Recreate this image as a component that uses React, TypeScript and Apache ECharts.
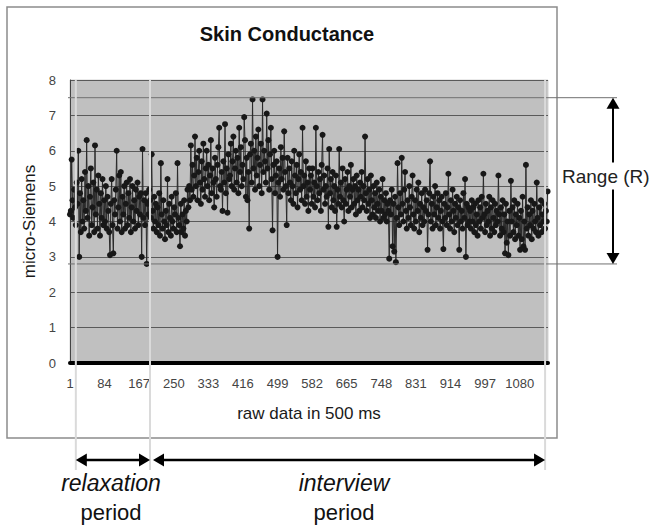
import { useEffect, useRef } from "react";
import * as echarts from "echarts";

const FONT = "'Liberation Sans', Arial, Helvetica, sans-serif";

// one reading every STEP raw samples (index 0 = sample "1")
const STEP = 2;

// samples 1-192
const relaxationValues = [
  4.2, 4.3, 5.75, 4.6, 4.1, 4.9, 4.4, 3.9, 5.1, 4.5,
  6.0, 3.0, 4.8, 3.7, 5.2, 4.0, 4.6, 3.8, 5.4, 4.3,
  6.3, 4.1, 5.0, 3.6, 4.7, 5.5, 3.9, 4.4, 5.1, 3.7,
  6.15, 4.2, 4.9, 3.8, 5.3, 4.5, 3.6, 4.8, 4.1, 5.2,
  3.9, 4.6, 4.0, 5.0, 3.8, 4.7, 4.3, 3.7, 3.05, 4.5,
  5.2, 3.9, 3.1, 4.6, 4.2, 4.9, 6.0, 3.8, 4.4, 5.3,
  4.0, 5.4, 3.7, 4.7, 4.2, 5.0, 3.8, 4.5, 5.1, 3.9,
  4.8, 4.1, 5.2, 3.7, 4.4, 5.0, 4.0, 4.6, 3.8, 4.9,
  4.3, 5.1, 3.9, 4.7, 4.2, 4.8, 3.0, 6.05, 4.1, 4.6,
  3.9, 4.8, 2.8, 4.5, 4.2, 4.9,
];

// samples 193-384
const interviewValuesA = [
  4.6, 4.1, 5.9, 4.3, 3.8, 4.7, 4.0, 4.5, 3.7, 4.4,
  3.9, 4.8, 3.6, 5.65, 4.2, 3.8, 4.6, 4.0, 3.5, 4.3,
  3.9, 5.2, 3.7, 4.5, 4.1, 3.6, 4.7, 4.0, 3.8, 4.4,
  4.2, 4.8, 3.7, 5.65, 4.1, 3.9, 3.3, 4.5, 3.7, 4.2,
  3.8, 4.6, 3.6, 4.3, 4.0, 4.9, 4.4, 5.0, 4.6, 6.15,
  4.9, 5.6, 4.7, 5.3, 6.4, 5.0, 5.8, 4.6, 5.4, 6.0,
  5.1, 4.5, 5.7, 4.9, 6.2, 5.2, 4.7, 5.5, 6.0, 5.0,
  5.6, 4.6, 5.3, 6.3, 4.8, 5.5, 5.1, 4.4, 5.8, 5.2,
  4.7, 5.6, 6.1, 6.65, 5.0, 4.9, 5.4, 4.3, 5.7, 5.1,
  6.75, 4.8, 5.5, 4.25, 5.9, 5.2,
];

// samples 385-576
const interviewValuesB = [
  5.3, 6.2, 5.0, 5.7, 6.4, 4.9, 5.5, 6.0, 5.1, 5.8,
  4.8, 6.65, 5.4, 6.1, 5.0, 5.6, 5.2, 6.95, 6.3, 4.7,
  5.8, 4.6, 5.4, 3.8, 5.9, 6.2, 5.1, 7.45, 5.5, 6.0,
  4.9, 6.4, 5.3, 5.8, 6.6, 5.0, 5.6, 6.2, 4.8, 7.45,
  5.4, 6.0, 5.7, 5.1, 7.05, 5.5, 6.3, 4.9, 5.9, 6.65,
  5.2, 3.75, 5.6, 6.0, 4.8, 5.3, 5.7, 3.0, 5.1, 5.5,
  4.7, 6.1, 5.2, 5.8, 4.9, 6.55, 5.4, 5.0, 3.9, 5.8,
  4.8, 5.5, 5.1, 4.6, 5.7, 5.0, 4.5, 6.0, 5.3, 4.8,
  5.6, 4.4, 5.2, 5.9, 4.9, 5.4, 4.6, 6.65, 5.0, 5.3,
  4.5, 5.7, 4.7, 5.1, 4.3, 5.5,
];

// samples 577-768
const interviewValuesC = [
  4.9, 5.3, 4.5, 5.5, 4.7, 5.1, 4.4, 6.65, 5.0, 4.6,
  5.4, 4.8, 5.2, 4.3, 5.6, 6.45, 4.9, 5.3, 4.5, 5.0,
  4.7, 5.5, 3.85, 6.05, 4.8, 5.2, 4.4, 5.4, 4.6, 5.0,
  4.3, 5.3, 3.85, 4.9, 4.5, 6.05, 4.7, 5.1, 4.4, 5.5,
  4.6, 4.0, 5.2, 4.5, 4.9, 5.4, 4.3, 5.0, 4.7, 5.6,
  4.4, 4.9, 5.2, 4.5, 5.0, 4.2, 5.3, 4.6, 4.9, 4.3,
  5.1, 4.7, 5.4, 4.4, 5.0, 4.6, 6.4, 4.8, 4.3, 5.2,
  4.5, 4.9, 4.1, 5.3, 4.6, 4.2, 5.0, 4.4, 4.8, 4.1,
  5.1, 4.5, 4.3, 4.9, 4.0, 4.7, 4.3, 5.2, 4.1, 4.6,
  4.2, 4.8, 4.0, 4.5, 4.3, 2.95,
];

// samples 769-960
const interviewValuesD = [
  4.6, 4.2, 4.9, 3.3, 4.5, 3.15, 4.7, 2.85, 4.1, 5.65,
  4.4, 3.9, 4.8, 4.2, 5.8, 4.5, 4.0, 4.9, 5.4, 4.3,
  3.8, 4.6, 4.1, 5.0, 4.4, 3.9, 4.7, 5.3, 4.2, 3.8,
  4.6, 4.0, 4.9, 4.3, 5.1, 3.7, 4.5, 4.1, 4.8, 3.9,
  4.4, 4.0, 4.9, 4.3, 4.6, 3.2, 4.2, 4.8, 5.7, 4.0,
  4.5, 3.8, 4.7, 4.2, 5.0, 3.9, 4.4, 4.8, 4.1, 4.6,
  3.8, 4.3, 4.7, 4.0, 3.22, 4.5, 4.1, 4.8, 3.9, 4.4,
  5.35, 4.2, 3.8, 4.6, 4.0, 4.9, 4.3, 3.7, 4.5, 4.1,
  4.7, 3.9, 4.4, 3.2, 4.6, 4.0, 4.3, 3.8, 4.8, 4.1,
  5.2, 3.0, 4.5, 3.9, 4.4, 4.0,
];

// samples 961-1147
const interviewValuesE = [
  4.3, 3.8, 4.6, 4.0, 4.4, 3.7, 4.5, 3.9, 4.2, 3.6,
  4.6, 4.0, 4.4, 3.8, 4.7, 4.1, 5.35, 4.2, 3.7, 4.5,
  3.9, 4.3, 4.0, 4.7, 3.6, 4.4, 3.8, 4.6, 4.1, 3.7,
  4.5, 3.9, 4.3, 4.0, 5.3, 4.2, 3.6, 4.4, 3.8, 4.6,
  3.7, 4.2, 3.1, 4.5, 3.4, 4.0, 3.05, 4.3, 3.6, 5.15,
  4.0, 4.4, 3.7, 4.6, 3.5, 4.2, 3.9, 4.5, 3.6, 4.1,
  3.2, 4.3, 3.5, 4.7, 3.3, 4.0, 3.2, 5.6, 3.8, 4.4,
  3.6, 4.2, 3.9, 4.6, 3.5, 4.3, 3.8, 4.5, 4.0, 3.7,
  5.1, 4.1, 3.6, 4.4, 3.9, 4.6, 3.7, 4.2, 4.0, 4.5,
  3.8, 4.3, 4.0, 4.85,
];

const xTickLabels = ["1", "84", "167", "250", "333", "416", "499", "582", "665", "748", "831", "914", "997", "1080"];
const X_TICK_STEP = 83;
const X_MAX = 1147;

// annotations (values on the chart's own scales)
const rangeTop = 7.5;
const rangeBottom = 2.8;
const periodBounds = [14, 192, 1140]; // relaxation start, relaxation end / interview start, interview end

export default function App() {
  const ref = useRef<HTMLDivElement>(null);

  useEffect(() => {
    const chart = echarts.init(ref.current!, null, { renderer: "svg" });
    const all = [
      ...relaxationValues,
      ...interviewValuesA,
      ...interviewValuesB,
      ...interviewValuesC,
      ...interviewValuesD,
      ...interviewValuesE,
    ];
    const data = all.map((v, i) => [i * STEP, v]);

    chart.setOption({
      animation: false,
      backgroundColor: "#ffffff",
      textStyle: { fontFamily: FONT },
      title: {
        text: "Skin Conductance",
        left: 282,
        top: 19,
        textAlign: "center",
        textStyle: { fontFamily: FONT, fontSize: 20, fontWeight: "bold", color: "#111" },
      },
      grid: {
        left: 70,
        right: 110,
        top: 80,
        bottom: 165,
        show: true,
        backgroundColor: "#c0c0c0",
        borderColor: "#d4d4d4",
        borderWidth: 1,
        containLabel: false,
      },
      xAxis: {
        type: "value",
        min: 0,
        max: X_MAX,
        interval: X_TICK_STEP,
        name: "raw data in 500 ms",
        nameLocation: "middle",
        nameGap: 42,
        nameTextStyle: { fontFamily: FONT, fontSize: 17, color: "#1a1a1a" },
        axisLine: { show: true, onZero: false, lineStyle: { color: "#000", width: 4 } },
        axisTick: { show: false },
        splitLine: { show: false },
        axisLabel: {
          margin: 14,
          fontFamily: FONT,
          fontSize: 13,
          color: "#444",
          showMaxLabel: false,
          formatter: (v: number) => xTickLabels[Math.round(v / X_TICK_STEP)] ?? "",
        },
      },
      yAxis: {
        type: "value",
        min: 0,
        max: 8,
        interval: 1,
        name: "micro-Siemens",
        nameLocation: "middle",
        nameGap: 27,
        nameTextStyle: { fontFamily: FONT, fontSize: 17, color: "#1a1a1a" },
        axisLine: { show: true, lineStyle: { color: "#444", width: 1 } },
        axisTick: { show: false },
        splitLine: { show: true, lineStyle: { color: "#5a5a5a", width: 1 } },
        axisLabel: { margin: 14, fontFamily: FONT, fontSize: 13, color: "#444" },
      },
      series: [
        {
          type: "line",
          data,
          z: 2,
          showSymbol: true,
          showAllSymbol: true,
          symbol: "circle",
          symbolSize: 6,
          lineStyle: { color: "#2a2a2a", width: 1 },
          itemStyle: { color: "#181818" },
        },
      ],
    });

    const px = (x: number, y: number) => chart.convertToPixel({ gridIndex: 0 }, [x, y]) as number[];
    const yR1 = px(0, rangeTop)[1];
    const yR2 = px(0, rangeBottom)[1];
    const xB = periodBounds.map((b) => px(b, 0)[0]);
    const plotTop = px(0, 8)[1];
    const arrowY = 460;
    const rangeX = 613;
    const head = 11;
    const hw = 6.5;

    const lightLine = (x: number) => ({
      type: "line",
      z: 5,
      shape: { x1: x, y1: plotTop, x2: x, y2: arrowY + 10 },
      style: { stroke: "#dadada", lineWidth: 2 },
    });

    const label = (text: string, x: number, y: number, size: number, italic: boolean) => ({
      type: "text",
      z: 6,
      x,
      y,
      style: {
        text,
        fontFamily: FONT,
        fontSize: size,
        fontStyle: italic ? "italic" : "normal",
        fill: "#111",
        align: "center",
        verticalAlign: "middle",
        textAlign: "center",
        textVerticalAlign: "middle",
      },
    });

    chart.setOption({
      graphic: [
        {
          type: "rect",
          z: 0,
          shape: { x: 7, y: 7, width: 550, height: 431 },
          style: { fill: "none", stroke: "#8c8c8c", lineWidth: 1.5 },
        },
        // range guide lines
        {
          type: "line",
          z: 4,
          shape: { x1: 68, y1: yR1, x2: rangeX + 4, y2: yR1 },
          style: { stroke: "#707070", lineWidth: 1 },
        },
        {
          type: "line",
          z: 4,
          shape: { x1: 68, y1: yR2, x2: rangeX + 4, y2: yR2 },
          style: { stroke: "#707070", lineWidth: 1 },
        },
        {
          type: "line",
          z: 4,
          shape: { x1: rangeX, y1: yR1 + head - 1, x2: rangeX, y2: yR2 - head + 1 },
          style: { stroke: "#000", lineWidth: 2 },
        },
        {
          type: "polygon",
          z: 4,
          shape: { points: [[rangeX, yR1], [rangeX - hw, yR1 + head], [rangeX + hw, yR1 + head]] },
          style: { fill: "#000" },
        },
        {
          type: "polygon",
          z: 4,
          shape: { points: [[rangeX, yR2], [rangeX - hw, yR2 - head], [rangeX + hw, yR2 - head]] },
          style: { fill: "#000" },
        },
        {
          type: "text",
          z: 6,
          x: 562,
          y: 176,
          style: {
            text: "Range (R)",
            fontFamily: FONT,
            fontSize: 19,
            fill: "#222",
            backgroundColor: "#fff",
            padding: [4, 0, 4, 0],
            align: "left",
            verticalAlign: "middle",
            textAlign: "left",
            textVerticalAlign: "middle",
          },
        },
        // period boundaries
        lightLine(xB[0]),
        lightLine(xB[1]),
        lightLine(xB[2]),
        // relaxation arrow
        {
          type: "line",
          z: 6,
          shape: { x1: xB[0] + head - 1, y1: arrowY, x2: xB[1] - head + 1, y2: arrowY },
          style: { stroke: "#000", lineWidth: 2.5 },
        },
        {
          type: "polygon",
          z: 6,
          shape: { points: [[xB[0], arrowY], [xB[0] + head, arrowY - hw], [xB[0] + head, arrowY + hw]] },
          style: { fill: "#000" },
        },
        {
          type: "polygon",
          z: 6,
          shape: { points: [[xB[1], arrowY], [xB[1] - head, arrowY - hw], [xB[1] - head, arrowY + hw]] },
          style: { fill: "#000" },
        },
        // interview arrow
        {
          type: "line",
          z: 6,
          shape: { x1: xB[1] + 3 + head - 1, y1: arrowY, x2: xB[2] - head + 1, y2: arrowY },
          style: { stroke: "#000", lineWidth: 2.5 },
        },
        {
          type: "polygon",
          z: 6,
          shape: { points: [[xB[1] + 3, arrowY], [xB[1] + 3 + head, arrowY - hw], [xB[1] + 3 + head, arrowY + hw]] },
          style: { fill: "#000" },
        },
        {
          type: "polygon",
          z: 6,
          shape: { points: [[xB[2], arrowY], [xB[2] - head, arrowY - hw], [xB[2] - head, arrowY + hw]] },
          style: { fill: "#000" },
        },
        // period labels
        label("relaxation", 111, 483, 23, true),
        label("period", 111, 512, 22, false),
        label("interview", 344, 483, 23, true),
        label("period", 344, 512, 22, false),
      ],
    });

    return () => chart.dispose();
  }, []);

  return (
    <div
      ref={ref}
      style={{ position: "fixed", left: 0, top: 0, width: 658, height: 528, background: "#fff" }}
    />
  );
}
